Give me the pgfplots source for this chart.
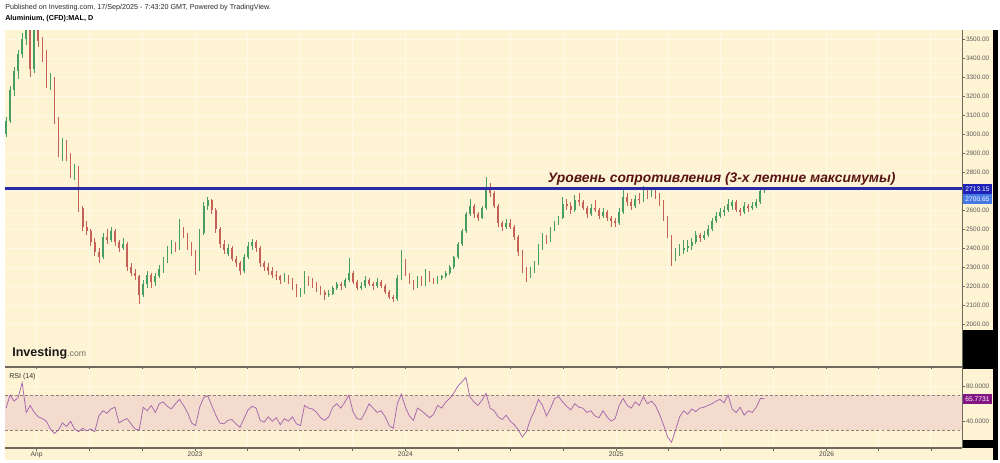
\documentclass[border=0pt]{standalone}
\usepackage{pgfplots}
\pgfplotsset{compat=1.18}
\usepackage{pgfplotstable}
\usepackage{fontspec}
\setmainfont{Liberation Sans}

\definecolor{bgcream}{RGB}{254,243,210}
\definecolor{gridc}{RGB}{255,249,232}
\definecolor{upc}{RGB}{70,158,98}
\definecolor{dnc}{RGB}{196,98,88}
\definecolor{resline}{RGB}{42,42,168}
\definecolor{annot}{RGB}{88,20,20}
\definecolor{rsiline}{RGB}{165,100,172}
\definecolor{rsiband}{RGB}{243,219,205}
\definecolor{rsidash}{RGB}{150,125,120}
\definecolor{axisc}{RGB}{110,105,95}
\definecolor{lblc}{RGB}{90,90,90}
\definecolor{lastbox}{RGB}{30,34,182}
\definecolor{prevbox}{RGB}{68,120,228}
\definecolor{rsibox}{RGB}{132,22,132}

% weekly candles, d = days since 1 Jan 2022, r = RSI(14)
\pgfplotstableread{
d o h l c r
37 3000 3090 2985 3070 55
44 3070 3250 3060 3230 70
51 3230 3350 3200 3330 63
58 3330 3440 3290 3420 67
65 3420 3530 3400 3500 84
72 3500 3620 3470 3560 50
79 3560 3580 3300 3340 58
86 3340 3600 3320 3560 50
93 3560 3580 3460 3490 45
100 3490 3510 3380 3420 43
107 3420 3440 3240 3260 40
114 3250 3320 3230 3290 31
121 3290 3300 3050 3080 26
128 3080 3090 2880 2900 30
135 2900 2980 2860 2960 38
142 2960 2970 2860 2880 34
149 2880 2900 2770 2800 40
156 2800 2840 2760 2820 31
163 2820 2830 2590 2610 28
170 2610 2620 2490 2510 32
177 2510 2540 2470 2490 29
184 2490 2500 2410 2430 31
191 2430 2450 2360 2380 28
198 2380 2400 2320 2350 46
205 2350 2480 2340 2460 52
212 2460 2500 2420 2440 49
219 2440 2510 2430 2490 54
226 2490 2500 2410 2430 56
233 2430 2440 2380 2400 38
240 2400 2450 2390 2420 41
247 2420 2430 2280 2300 43
254 2300 2320 2250 2270 37
261 2270 2290 2230 2250 31
268 2250 2260 2107 2150 30
275 2150 2230 2140 2210 56
282 2210 2280 2190 2260 52
289 2260 2270 2190 2220 58
296 2220 2270 2200 2250 50
303 2250 2310 2240 2290 60
310 2290 2350 2270 2330 62
317 2330 2410 2320 2390 57
324 2390 2440 2370 2420 54
331 2420 2430 2380 2400 60
338 2400 2550 2390 2500 65
345 2500 2510 2450 2470 58
352 2470 2480 2390 2410 50
359 2410 2430 2360 2380 38
366 2380 2390 2260 2290 35
373 2290 2500 2280 2480 56
380 2480 2640 2470 2620 67
387 2620 2670 2600 2650 69
394 2650 2660 2580 2600 58
401 2600 2610 2480 2500 47
408 2500 2510 2400 2420 38
415 2420 2440 2370 2390 37
422 2370 2420 2360 2400 41
429 2400 2410 2330 2340 42
436 2340 2360 2300 2320 37
443 2320 2330 2260 2280 33
450 2280 2370 2270 2350 43
457 2350 2430 2340 2410 53
464 2410 2445 2390 2430 57
471 2430 2440 2380 2400 55
478 2400 2410 2300 2320 41
485 2320 2330 2280 2300 39
492 2300 2320 2260 2280 45
499 2280 2300 2240 2260 40
506 2260 2280 2230 2250 44
513 2250 2260 2210 2230 36
520 2230 2270 2220 2250 43
527 2250 2260 2210 2230 40
534 2230 2240 2180 2200 45
541 2200 2210 2140 2160 37
548 2160 2190 2140 2170 35
555 2170 2280 2160 2240 58
562 2240 2250 2200 2220 55
569 2220 2240 2190 2210 54
576 2210 2220 2170 2190 50
583 2190 2200 2150 2170 44
590 2170 2180 2125 2150 41
597 2150 2180 2140 2160 45
604 2160 2200 2150 2190 56
611 2190 2220 2180 2210 60
618 2210 2220 2180 2200 55
625 2200 2240 2190 2230 62
632 2230 2347 2220 2270 70
639 2270 2280 2210 2220 51
646 2220 2230 2180 2190 43
653 2190 2220 2180 2200 42
660 2200 2250 2190 2230 50
667 2230 2240 2200 2210 60
674 2210 2220 2180 2200 55
681 2200 2240 2190 2220 50
688 2220 2230 2190 2200 52
695 2200 2210 2160 2170 45
702 2170 2180 2130 2140 35
709 2140 2150 2115 2130 32
716 2130 2260 2120 2240 60
723 2240 2390 2230 2330 71
730 2330 2340 2250 2260 56
737 2260 2270 2210 2220 46
744 2220 2230 2180 2200 41
751 2200 2250 2190 2240 55
758 2240 2250 2200 2210 52
765 2210 2290 2200 2270 48
772 2270 2280 2220 2230 44
779 2230 2240 2210 2220 48
786 2220 2250 2210 2240 58
793 2240 2260 2230 2250 55
800 2250 2280 2240 2270 62
807 2270 2310 2260 2300 66
814 2300 2360 2290 2350 72
821 2350 2430 2340 2420 80
828 2420 2500 2410 2490 85
835 2490 2590 2480 2580 90
842 2580 2660 2570 2620 68
849 2620 2630 2560 2580 62
856 2580 2590 2540 2560 58
863 2560 2620 2550 2610 64
870 2610 2775 2600 2720 72
877 2720 2740 2670 2690 55
884 2690 2700 2610 2620 52
891 2620 2630 2510 2530 45
898 2530 2540 2490 2510 42
905 2510 2550 2500 2530 47
912 2530 2550 2500 2510 40
919 2510 2520 2440 2460 36
926 2460 2470 2360 2380 30
933 2380 2390 2270 2280 22
940 2280 2300 2220 2250 28
947 2250 2300 2240 2280 42
954 2280 2330 2270 2320 52
961 2320 2420 2310 2400 65
968 2400 2480 2390 2460 58
975 2460 2470 2420 2440 46
982 2440 2510 2430 2500 55
989 2500 2540 2490 2530 66
996 2530 2570 2520 2560 68
1003 2560 2670 2550 2630 62
1010 2630 2660 2600 2620 57
1017 2620 2640 2580 2600 53
1024 2600 2680 2590 2650 60
1031 2650 2690 2620 2640 56
1038 2640 2650 2600 2610 55
1045 2610 2620 2560 2580 50
1052 2580 2630 2570 2610 52
1059 2610 2650 2590 2600 46
1066 2600 2610 2550 2570 44
1073 2570 2610 2560 2590 52
1080 2590 2600 2540 2560 45
1087 2560 2570 2510 2540 40
1094 2540 2560 2510 2530 43
1101 2530 2610 2520 2590 58
1108 2590 2710 2580 2670 66
1115 2670 2690 2620 2640 58
1122 2640 2660 2600 2620 55
1129 2620 2680 2610 2660 62
1136 2660 2690 2630 2650 58
1143 2650 2726 2640 2700 68
1150 2700 2710 2660 2690 60
1157 2690 2715 2670 2700 63
1164 2700 2710 2660 2680 58
1171 2680 2690 2620 2640 48
1178 2640 2650 2540 2560 36
1185 2560 2570 2450 2460 22
1192 2460 2470 2304 2360 16
1199 2360 2400 2330 2380 30
1206 2380 2420 2360 2390 45
1213 2390 2440 2370 2400 52
1220 2400 2440 2380 2410 48
1227 2410 2450 2390 2430 54
1234 2430 2490 2420 2470 51
1241 2470 2480 2430 2450 55
1248 2450 2490 2440 2470 56
1255 2470 2520 2460 2500 58
1262 2500 2560 2490 2540 60
1269 2540 2590 2530 2570 63
1276 2570 2610 2560 2590 65
1283 2590 2620 2570 2600 61
1290 2600 2660 2590 2630 70
1297 2620 2650 2600 2640 54
1304 2640 2650 2590 2600 50
1311 2600 2610 2570 2590 56
1318 2590 2640 2580 2620 47
1325 2620 2630 2590 2610 52
1332 2610 2640 2600 2620 50
1339 2620 2660 2610 2640 56
1346 2640 2710 2630 2700 66
1353 2700 2720 2690 2715 65.7731
}\candles

\pgfplotsset{
  chartpanel/.style={
    scale only axis, width=717.75pt,
    xmin=35.2, xmax=1696,
    axis line style={draw=none},
    axis background/.style={fill=bgcream},
    xtick={90,181,273,365,455,546,638,730,821,912,1004,1096,1186,1277,1369,1461,1551,1642},
    grid=major, grid style={gridc, line width=0.6pt},
    tick align=outside, major tick length=2.25pt,
    ytick pos=right, yticklabel pos=right,
    every tick/.style={axisc, line width=0.4pt},
    every tick label/.append style={font=\fontsize{4.8}{5.5}\selectfont, text=lblc, inner sep=0.6pt},
    /pgf/number format/assume math mode=true,
  },
  wick/.style={draw=none, mark=none, forget plot,
    error bars/.cd, y dir=plus, y explicit, error mark=none,
    error bar style={draw=#1, line width=0.45pt}},
  body/.style={draw=none, mark=none, forget plot,
    error bars/.cd, y dir=plus, y explicit, error mark=none,
    error bar style={draw=#1, line width=1.25pt}},
}

\begin{document}
\begin{tikzpicture}
\begin{scope}[x=0.75pt,y=-0.75pt]
  \path[use as bounding box] (0,0) rectangle (1000,463);
  \fill[white] (0,0) rectangle (1000,463);
  \fill[bgcream] (5,30) rectangle (993,460);
  \fill[black] (993,30) rectangle (998,460);
  \fill[black] (962,330) rectangle (998,369);
  \fill[black] (962,440) rectangle (998,448);
  \coordinate (mainSW) at (5,367);
  \coordinate (rsiSW) at (5,448);
  \node[anchor=west, inner sep=0pt, text={rgb,255:red,40;green,40;blue,40}, font=\fontsize{5.4}{6}\selectfont]
    at (5,8) {Published on Investing.com, 17/Sep/2025 - 7:43:20 GMT, Powered by TradingView.};
  \node[anchor=west, inner sep=0pt, font=\fontsize{5.4}{6}\selectfont\bfseries]
    at (5,19) {Aluminium, (CFD):MAL, D};
\end{scope}

% price panel
\begin{axis}[chartpanel,
  at={(mainSW)}, anchor=south west, height=252.4pt,
  ymin=1773.7, ymax=3544.7,
  xticklabels={}, major x tick style={draw=none},
  ytick={2000,2100,2200,2300,2400,2500,2600,2800,2900,3000,3100,3200,3300,3400,3500},
  extra y ticks={2700}, extra y tick labels={},
  yticklabel style={/pgf/number format/.cd, fixed, fixed zerofill, precision=2, 1000 sep={}},
]
\addplot[restrict expr to domain={\thisrow{c}-\thisrow{o}}{0:10000}, wick=upc]
  table[x=d, y=l, y error plus expr=\thisrow{h}-\thisrow{l}] {\candles};
\addplot[restrict expr to domain={\thisrow{c}-\thisrow{o}}{-10000:-0.5}, wick=dnc]
  table[x=d, y=l, y error plus expr=\thisrow{h}-\thisrow{l}] {\candles};
\addplot[restrict expr to domain={\thisrow{c}-\thisrow{o}}{0:10000}, body=upc]
  table[x=d, y=o, y error plus expr={max(\thisrow{c}-\thisrow{o},6)}] {\candles};
\addplot[restrict expr to domain={\thisrow{c}-\thisrow{o}}{-10000:-0.5}, body=dnc]
  table[x=d, y=c, y error plus expr={max(\thisrow{o}-\thisrow{c},6)}] {\candles};
% resistance level
\addplot[resline, line width=1.8pt] coordinates {(35.2,2713.15) (1696,2713.15)};
\node[anchor=west, inner sep=0pt, text=annot, font=\fontsize{10.35}{12}\selectfont\bfseries\itshape]
  at (axis cs:977,2763) {Уровень сопротивления (3-х летние максимумы)};
\end{axis}

% value boxes to the right of the price panel
\begin{scope}[x=0.75pt,y=-0.75pt]
  \node[fill=lastbox, text=white, inner sep=0.8pt, minimum width=22pt, minimum height=7pt,
    font=\fontsize{5}{6}\selectfont, anchor=west] at (962.5,189) {2713.15};
  \node[fill=prevbox, text=white, inner sep=0.8pt, minimum width=22pt, minimum height=7pt,
    font=\fontsize{5}{6}\selectfont, anchor=west] at (962.5,199) {2700.65};
\end{scope}

% RSI panel
\begin{axis}[chartpanel,
  at={(rsiSW)}, anchor=south west, height=59.25pt,
  ymin=9.4, ymax=99.7,
  xticklabels={Апр,,,2023,,,,2024,,,,2025,,,,2026,,},
  xticklabel style={font=\fontsize{5}{6}\selectfont, text={rgb,255:red,70;green,70;blue,70}},
  ytick={40,80}, extra y ticks={60}, extra y tick labels={},
  yticklabel style={/pgf/number format/.cd, fixed, fixed zerofill, precision=4},
]
\addplot[fill=rsiband, draw=none, forget plot] coordinates {(35.2,30) (1696,30) (1696,70) (35.2,70)} -- cycle;
\addplot[rsidash, line width=0.5pt, dash pattern=on 2.2pt off 1.6pt] coordinates {(35.2,70) (1696,70)};
\addplot[rsidash, line width=0.5pt, dash pattern=on 2.2pt off 1.6pt] coordinates {(35.2,30) (1696,30)};
\addplot[rsiline, line width=0.55pt] table[x=d, y=r] {\candles};
\end{axis}

\begin{scope}[x=0.75pt,y=-0.75pt]
  \draw[axisc, line width=1.5pt] (5,367.5) -- (962,367.5);
  \draw[axisc, line width=1.1pt] (5,448) -- (962,448);
  \draw[axisc, line width=0.6pt] (962,30) -- (962,448);
  \node[fill=rsibox, text=white, inner sep=0.8pt, minimum width=22pt, minimum height=7pt,
    font=\fontsize{5}{6}\selectfont, anchor=west] at (962.5,399) {65.7731};
  \node[anchor=west, inner sep=0pt, text={rgb,255:red,50;green,50;blue,50}, font=\fontsize{5.3}{6}\selectfont]
    at (9,377) {RSI (14)};
  \node[anchor=base west, inner sep=0pt] at (12,357)
    {\fontsize{9.4}{10}\selectfont\bfseries\color[RGB]{25,25,25}Investing\fontsize{6.5}{7}\selectfont\mdseries\color[RGB]{110,110,110}.com};
\end{scope}
\end{tikzpicture}
\end{document}
